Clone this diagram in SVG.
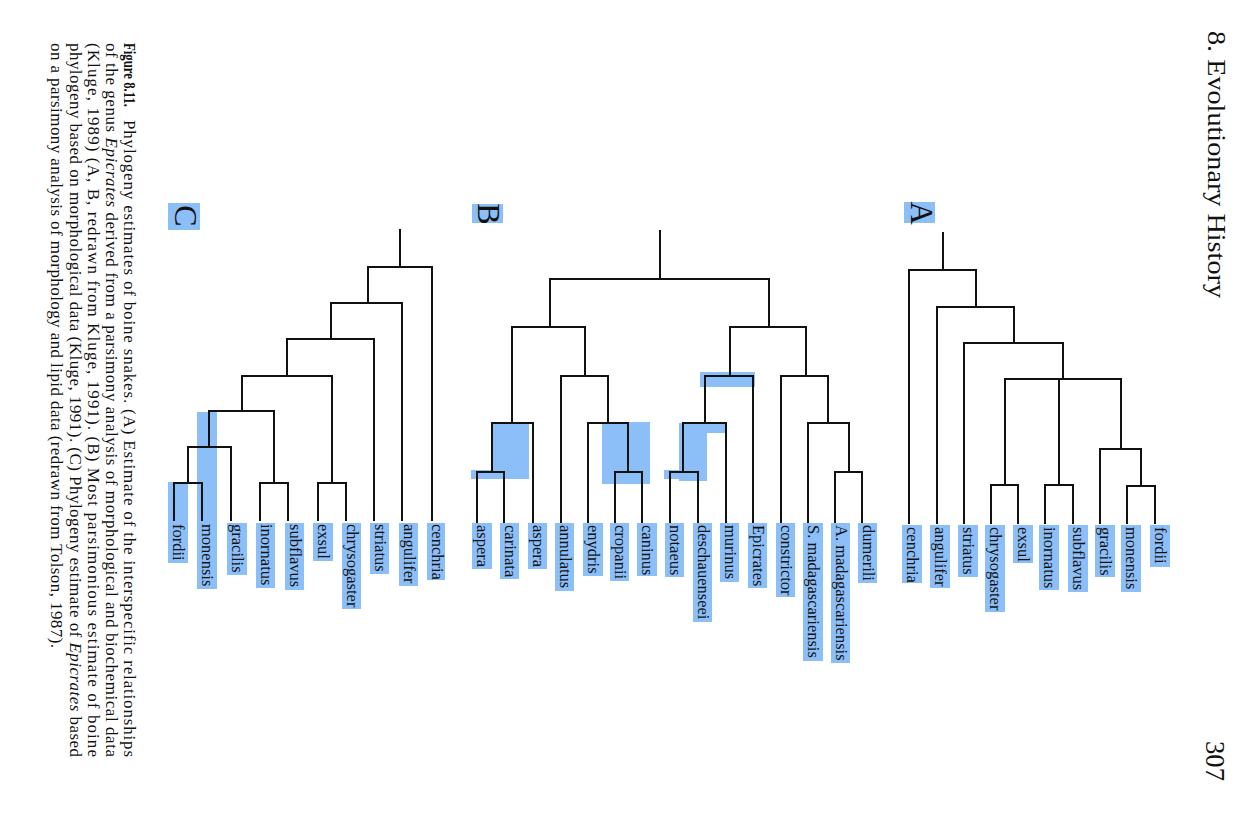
<svg xmlns="http://www.w3.org/2000/svg" width="1246" height="823" viewBox="0 0 1246 823">
<style>
.ln{fill:none;stroke:#111;stroke-width:2;stroke-linecap:square}
.hl{fill:#8cbff7}
.lab{font-family:"Liberation Serif","Times New Roman",serif;font-size:16.5px;fill:#111}
.big{font-family:"Liberation Serif","Times New Roman",serif;font-size:32px;fill:#111;text-anchor:middle}
.cap{font-family:"Liberation Serif","Times New Roman",serif;font-size:17px;fill:#111}
.hdr{font-family:"Liberation Serif","Times New Roman",serif;fill:#111}
</style>
<rect width="1246" height="823" fill="#fff"/>

<!-- highlight patches (tree B, C) -->
<g id="highlights">
<path class="hl" d="M492 423 H529 V479 H471 V470 H492 Z"/>
<rect class="hl" x="602" y="422" width="48" height="62"/>
<path class="hl" d="M679 423 H727 V433 H707 V481 H679 V479 H664 V470 H679 Z"/>
<rect class="hl" x="700" y="372" width="55" height="15"/>
<rect class="hl" x="197" y="412" width="20" height="177"/>
<rect class="hl" x="168" y="482" width="20" height="81"/>
</g>

<g id="connectors">
<!-- Tree A -->
<path class="ln" d="M943 233 V270"/>
<path class="ln" d="M909 523 V270 H976 V307"/>
<path class="ln" d="M937 523 V307 H1014 V343"/>
<path class="ln" d="M964 523 V343 H1063 V379"/>
<path class="ln" d="M1005 485 V379 H1121 V449"/>
<path class="ln" d="M1059 379 V485"/>
<path class="ln" d="M991 523 V485 H1018 V523"/>
<path class="ln" d="M1045 523 V485 H1073 V523"/>
<path class="ln" d="M1100 523 V449 H1141 V486"/>
<path class="ln" d="M1127 523 V486 H1155 V523"/>
<!-- Tree B -->
<path class="ln" d="M660 231 V279"/>
<path class="ln" d="M550 327 V279 H769 V327"/>
<path class="ln" d="M512 423 V327 H585 V376"/>
<path class="ln" d="M492 472 V423 H533 V523"/>
<path class="ln" d="M477 523 V472 H504 V523"/>
<path class="ln" d="M561 523 V376 H608 V423"/>
<path class="ln" d="M588 523 V423 H628 V472"/>
<path class="ln" d="M615 523 V472 H642 V523"/>
<path class="ln" d="M730 376 V327 H806 V376"/>
<path class="ln" d="M705 423 V376 H753 V523"/>
<path class="ln" d="M683 472 V423 H726 V523"/>
<path class="ln" d="M670 523 V472 H698 V523"/>
<path class="ln" d="M781 523 V376 H828 V423"/>
<path class="ln" d="M808 523 V423 H849 V472"/>
<path class="ln" d="M835 523 V472 H862 V523"/>
<!-- Tree C -->
<path class="ln" d="M400 230 V267"/>
<path class="ln" d="M368 303 V267 H432 V520"/>
<path class="ln" d="M331 339 V303 H402 V520"/>
<path class="ln" d="M287 376 V339 H374 V520"/>
<path class="ln" d="M242 411 V376 H332 V483"/>
<path class="ln" d="M318 520 V483 H346 V520"/>
<path class="ln" d="M209 447 V411 H274 V483"/>
<path class="ln" d="M260 520 V483 H288 V520"/>
<path class="ln" d="M188 483 V447 H231 V520"/>
<path class="ln" d="M174 520 V483 H202 V520"/>
</g>

<!-- Panel letters -->
<g id="label-A"><rect class="hl" x="904" y="202" width="31" height="21"/><text class="big" transform="translate(911 213) rotate(90)">A</text></g>
<g id="label-B"><rect class="hl" x="472" y="204" width="31" height="19"/><text class="big" transform="translate(478 214) rotate(90)">B</text></g>
<g id="label-C"><rect class="hl" x="168" y="203" width="32" height="27"/><text class="big" transform="translate(175 216) rotate(90)">C</text></g>

<!-- Tree A leaves -->
<g id="A-cenchria"><rect class="hl" x="902" y="525" width="20" height="58"/><text class="lab" transform="translate(907 527) rotate(90)">cenchria</text></g>
<g id="A-angulifer"><rect class="hl" x="930" y="525" width="20" height="63"/><text class="lab" transform="translate(935 527) rotate(90)">angulifer</text></g>
<g id="A-striatus"><rect class="hl" x="958" y="525" width="20" height="52"/><text class="lab" transform="translate(963 527) rotate(90)">striatus</text></g>
<g id="A-chrysogaster"><rect class="hl" x="985" y="525" width="20" height="87"/><text class="lab" transform="translate(990 527) rotate(90)">chrysogaster</text></g>
<g id="A-exsul"><rect class="hl" x="1013" y="525" width="20" height="38"/><text class="lab" transform="translate(1018 527) rotate(90)">exsul</text></g>
<g id="A-inornatus"><rect class="hl" x="1039" y="525" width="20" height="65"/><text class="lab" transform="translate(1044 527) rotate(90)">inornatus</text></g>
<g id="A-subflavus"><rect class="hl" x="1068" y="525" width="20" height="67"/><text class="lab" transform="translate(1073 527) rotate(90)">subflavus</text></g>
<g id="A-gracilis"><rect class="hl" x="1095" y="525" width="20" height="52"/><text class="lab" transform="translate(1100 527) rotate(90)">gracilis</text></g>
<g id="A-monensis"><rect class="hl" x="1121" y="525" width="20" height="67"/><text class="lab" transform="translate(1126 527) rotate(90)">monensis</text></g>
<g id="A-fordii"><rect class="hl" x="1150" y="525" width="20" height="42"/><text class="lab" transform="translate(1155 527) rotate(90)">fordii</text></g>

<!-- Tree B leaves -->
<g id="B-aspera1"><rect class="hl" x="472" y="523" width="20" height="46"/><text class="lab" transform="translate(477 525) rotate(90)">aspera</text></g>
<g id="B-carinata"><rect class="hl" x="500" y="523" width="19" height="56"/><text class="lab" transform="translate(505 525) rotate(90)">carinata</text></g>
<g id="B-aspera2"><rect class="hl" x="528" y="523" width="19" height="46"/><text class="lab" transform="translate(533 525) rotate(90)">aspera</text></g>
<g id="B-annulatus"><rect class="hl" x="555" y="523" width="19" height="68"/><text class="lab" transform="translate(560 525) rotate(90)">annulatus</text></g>
<g id="B-enydris"><rect class="hl" x="583" y="523" width="20" height="53"/><text class="lab" transform="translate(588 525) rotate(90)">enydris</text></g>
<g id="B-cropanii"><rect class="hl" x="610" y="523" width="19" height="58"/><text class="lab" transform="translate(615 525) rotate(90)">cropanii</text></g>
<g id="B-caninus"><rect class="hl" x="637" y="523" width="20" height="53"/><text class="lab" transform="translate(642 525) rotate(90)">caninus</text></g>
<g id="B-notaeus"><rect class="hl" x="665" y="523" width="19" height="54"/><text class="lab" transform="translate(670 525) rotate(90)">notaeus</text></g>
<g id="B-deschauenseei"><rect class="hl" x="693" y="523" width="19" height="99"/><text class="lab" transform="translate(698 525) rotate(90)">deschauenseei</text></g>
<g id="B-murinus"><rect class="hl" x="720" y="523" width="19" height="59"/><text class="lab" transform="translate(725 525) rotate(90)">murinus</text></g>
<g id="B-Epicrates"><rect class="hl" x="748" y="523" width="19" height="65"/><text class="lab" transform="translate(753 525) rotate(90)">Epicrates</text></g>
<g id="B-constrictor"><rect class="hl" x="776" y="523" width="19" height="74"/><text class="lab" transform="translate(781 525) rotate(90)">constrictor</text></g>
<g id="B-Smadagascariensis"><rect class="hl" x="803" y="523" width="20" height="138"/><text class="lab" transform="translate(808 525) rotate(90)">S. madagascariensis</text></g>
<g id="B-Amadagascariensis"><rect class="hl" x="831" y="523" width="19" height="140"/><text class="lab" transform="translate(836 525) rotate(90)">A. madagascariensis</text></g>
<g id="B-dumerili"><rect class="hl" x="858" y="523" width="19" height="60"/><text class="lab" transform="translate(863 525) rotate(90)">dumerili</text></g>

<!-- Tree C leaves -->
<g id="C-fordii"><text class="lab" transform="translate(173 524) rotate(90)">fordii</text></g>
<g id="C-monensis"><text class="lab" transform="translate(202 524) rotate(90)">monensis</text></g>
<g id="C-gracilis"><rect class="hl" x="227" y="523" width="20" height="52"/><text class="lab" transform="translate(232 524) rotate(90)">gracilis</text></g>
<g id="C-inornatus"><rect class="hl" x="256" y="523" width="19" height="65"/><text class="lab" transform="translate(261 524) rotate(90)">inornatus</text></g>
<g id="C-subflavus"><rect class="hl" x="285" y="523" width="19" height="67"/><text class="lab" transform="translate(290 524) rotate(90)">subflavus</text></g>
<g id="C-exsul"><rect class="hl" x="313" y="523" width="20" height="38"/><text class="lab" transform="translate(318 524) rotate(90)">exsul</text></g>
<g id="C-chrysogaster"><rect class="hl" x="342" y="523" width="19" height="86"/><text class="lab" transform="translate(347 524) rotate(90)">chrysogaster</text></g>
<g id="C-striatus"><rect class="hl" x="370" y="523" width="19" height="51"/><text class="lab" transform="translate(375 524) rotate(90)">striatus</text></g>
<g id="C-angulifer"><rect class="hl" x="399" y="523" width="19" height="63"/><text class="lab" transform="translate(404 524) rotate(90)">angulifer</text></g>
<g id="C-cenchria"><rect class="hl" x="427" y="523" width="18" height="57"/><text class="lab" transform="translate(432 524) rotate(90)">cenchria</text></g>

<!-- Header -->
<g id="header">
<text class="hdr" font-size="25" transform="translate(1208 31) rotate(90)" textLength="267" lengthAdjust="spacingAndGlyphs">8. Evolutionary History</text>
<text class="hdr" font-size="27" transform="translate(1206 741) rotate(90)" textLength="40" lengthAdjust="spacingAndGlyphs">307</text>
</g>

<!-- Caption -->
<g id="caption">
<text class="cap" font-weight="bold" transform="translate(124 43) rotate(90)" textLength="64" lengthAdjust="spacingAndGlyphs">Figure 8.11.</text>
<text class="cap" transform="translate(124 120) rotate(90)" textLength="637" lengthAdjust="spacing">Phylogeny estimates of boine snakes. (A) Estimate of the interspecific relationships</text>
<text class="cap" transform="translate(106 43) rotate(90)" textLength="714" lengthAdjust="spacing">of the genus <tspan font-style="italic">Epicrates</tspan> derived from a parsimony analysis of morphological and biochemical data</text>
<text class="cap" transform="translate(88 43) rotate(90)" textLength="714" lengthAdjust="spacing">(Kluge, 1989) (A, B, redrawn from Kluge, 1991). (B) Most parsimonious estimate of boine</text>
<text class="cap" transform="translate(69.5 43) rotate(90)" textLength="714" lengthAdjust="spacing">phylogeny based on morphological data (Kluge, 1991). (C) Phylogeny estimate of <tspan font-style="italic">Epicrates</tspan> based</text>
<text class="cap" transform="translate(51 43) rotate(90)" textLength="605" lengthAdjust="spacing">on a parsimony analysis of morphology and lipid data (redrawn from Tolson, 1987).</text>
</g>
</svg>
